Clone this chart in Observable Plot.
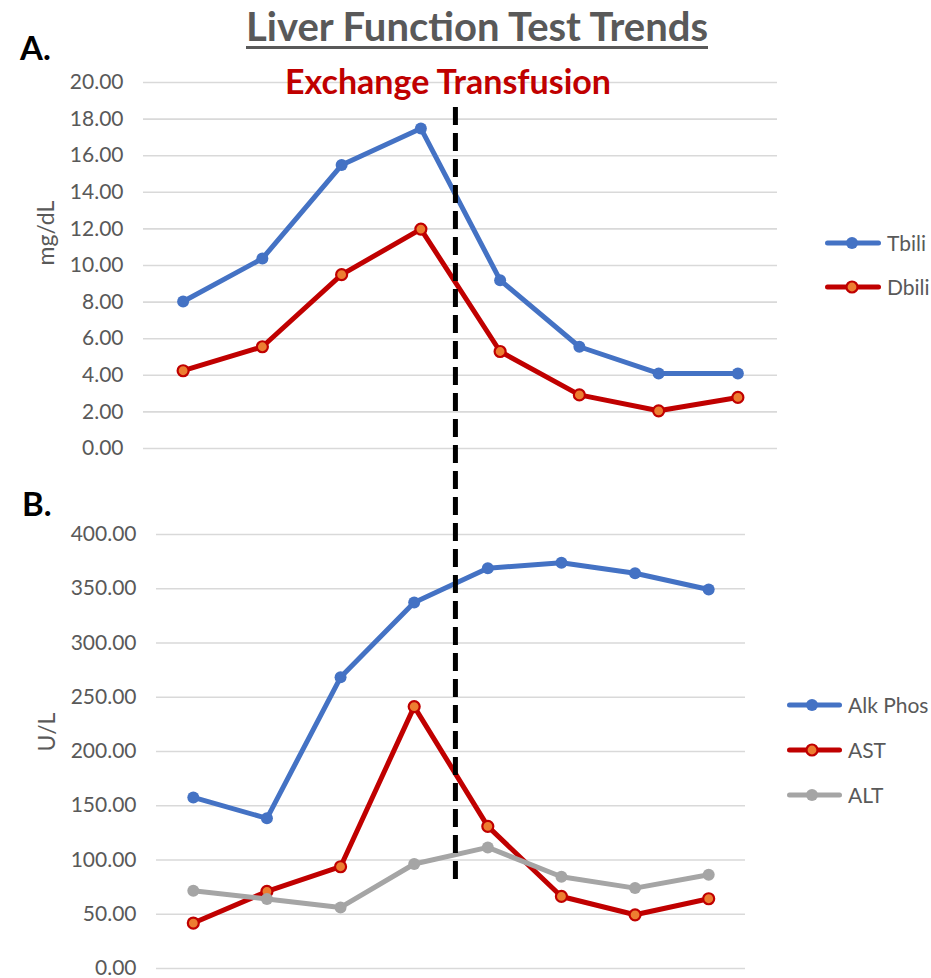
<!DOCTYPE html>
<html>
<head>
<meta charset="utf-8">
<script src="https://cdn.jsdelivr.net/npm/d3@7"></script>
<script src="https://cdn.jsdelivr.net/npm/@observablehq/plot@0.6"></script>
<style>
  html, body { margin: 0; padding: 0; background: #fff; }
  body { font-family: Lato, "Open Sans", sans-serif; }
  #root { position: relative; width: 931px; height: 978px; overflow: hidden; }
  .abs { position: absolute; white-space: nowrap; }
  .title { font-weight: 700; color: #595959; font-size: 40px; line-height: 48px;
           text-decoration: underline; text-decoration-thickness: 3px; text-underline-offset: 5px;
           transform: translateX(-50%); }
  .panel { font-weight: 700; color: #000; font-size: 33px; line-height: 40px; }
  .event { font-weight: 700; color: #C00000; font-size: 34px; line-height: 40px; transform: translateX(-50%); }
  .legend-row { display: flex; align-items: center; height: 24px; }
  .legend-row span { font-size: 21px; line-height: 24px; color: #595959; margin-left: 6px; }
  .plotbox { position: absolute; left: 0; }
</style>
</head>
<body>
<div id="root"></div>
<script>
// ---------------- data ----------------
const days = [1, 2, 3, 4, 5, 6, 7, 8];

// Panel A (mg/dL)
const tbili = [8.03, 10.38, 15.49, 17.49, 9.2, 5.56, 4.1, 4.1];
const dbili = [4.25, 5.56, 9.5, 11.99, 5.3, 2.93, 2.06, 2.79];
const ticksA = [0, 2, 4, 6, 8, 10, 12, 14, 16, 18, 20];

// Panel B (U/L)
const alkPhos = [157.7, 138.4, 268.4, 337.3, 368.9, 373.9, 364.3, 349.3];
const ast = [41.9, 71, 93.8, 241.4, 131, 66.4, 49.5, 64.3];
const alt = [71.7, 64, 56.3, 96.3, 111.6, 84.6, 74.1, 86.4];
const ticksB = [0, 50, 100, 150, 200, 250, 300, 350, 400];

// Exchange transfusion marker (on panel B's day axis; the line spans both panels)
const transfusionDay = [4.56];

// text
const titleText = "Liver Function Test Trends";
const eventText = "Exchange Transfusion";
const unitA = "mg/dL";
const unitB = "U/L";

// series styling
const seriesA = [
  { name: "Tbili", values: tbili, stroke: "#4472C4", fill: "#4472C4" },
  { name: "Dbili", values: dbili, stroke: "#C00000", fill: "#ED7D31" }
];
const seriesB = [
  { name: "Alk Phos", values: alkPhos, stroke: "#4472C4", fill: "#4472C4" },
  { name: "AST", values: ast, stroke: "#C00000", fill: "#ED7D31" },
  { name: "ALT", values: alt, stroke: "#A5A5A5", fill: "#A5A5A5" }
];

// ---------------- helpers ----------------
const rowsOf = s => s.values.map((v, i) => ({ day: days[i], value: v, series: s.name }));

function seriesMarks(series) {
  const marks = [];
  for (const s of series) {
    marks.push(Plot.line(rowsOf(s), { x: "day", y: "value", stroke: s.stroke, strokeWidth: 5,
      strokeLinejoin: "round", strokeLinecap: "round" }));
  }
  for (const s of series) {
    const outlined = s.fill !== s.stroke;
    marks.push(Plot.dot(rowsOf(s), { x: "day", y: "value", r: outlined ? 5.5 : 6, fill: s.fill,
      stroke: s.stroke, strokeWidth: outlined ? 2.2 : 0 }));
  }
  return marks;
}

function panel({ series, ticks, yMax, unit, height, marginTop, marginBottom,
                 marginLeft, marginRight, labelDx, extra = [] }) {
  return Plot.plot({
    width: 931,
    height,
    marginTop, marginBottom, marginLeft, marginRight,
    style: { fontFamily: "Lato, 'Open Sans', sans-serif", fontSize: "21px", color: "#595959",
             overflow: "visible", background: "transparent" },
    x: { domain: [0.5, 8.5], axis: null },
    y: { domain: [0, yMax], axis: null },
    marks: [
      Plot.ruleY(ticks, { stroke: "#D9D9D9", strokeWidth: 1.6 }),
      Plot.axisY(ticks, { tickSize: 0, tickPadding: 20, tickFormat: d => d.toFixed(2),
        label: null, fill: "#595959", fontSize: 21 }),
      Plot.text([unit], { frameAnchor: "left", dx: labelDx, rotate: -90, fontSize: 23, fill: "#595959" }),
      ...seriesMarks(series),
      ...extra
    ]
  });
}

function legend(series, left, centers, swatchW, dotX) {
  const box = document.createElement("div");
  series.forEach((s, i) => {
    const row = document.createElement("div");
    row.className = "abs legend-row";
    row.style.left = left + "px";
    row.style.top = (centers[i] - 12) + "px";
    const outlined = s.fill !== s.stroke;
    row.innerHTML =
      `<svg width="${swatchW}" height="16" style="display:block">
         <line x1="2.5" x2="${swatchW - 2.5}" y1="8" y2="8" stroke="${s.stroke}" stroke-width="5" stroke-linecap="round"/>
         <circle cx="${dotX}" cy="8" r="${outlined ? 5.5 : 6}" fill="${s.fill}" stroke="${s.stroke}" stroke-width="${outlined ? 2.2 : 0}"/>
       </svg><span>${s.name}</span>`;
    box.appendChild(row);
  });
  return box;
}

// ---------------- layout ----------------
const root = document.getElementById("root");

const topPlot = panel({
  series: seriesA, ticks: ticksA, yMax: 20, unit: unitA,
  height: 490, marginTop: 82, marginBottom: 42, marginLeft: 143, marginRight: 154,
  labelDx: -97
});
topPlot.classList.add("plotbox");
topPlot.style.top = "0px";
root.appendChild(topPlot);

const bottomPlot = panel({
  series: seriesB, ticks: ticksB, yMax: 400, unit: unitB,
  height: 488, marginTop: 44, marginBottom: 10, marginLeft: 156, marginRight: 186,
  labelDx: -109,
  extra: [
    Plot.ruleX(transfusionDay, { stroke: "#000", strokeWidth: 5, strokeDasharray: "18,8",
      insetTop: -427, insetBottom: 85 })
  ]
});
bottomPlot.classList.add("plotbox");
bottomPlot.style.top = "490px";
root.appendChild(bottomPlot);

function addText(cls, text, left, top) {
  const d = document.createElement("div");
  d.className = "abs " + cls;
  d.textContent = text;
  d.style.left = left + "px";
  d.style.top = top + "px";
  root.appendChild(d);
  return d;
}
addText("title", titleText, 477, 2);
addText("panel", "A.", 20, 27);
addText("panel", "B.", 22, 483);
addText("event", eventText, 448, 61);

root.appendChild(legend(seriesA, 825, [243, 287], 56, 27));
root.appendChild(legend(seriesB, 787, [705, 750, 795], 55, 25));
</script>
</body>
</html>
